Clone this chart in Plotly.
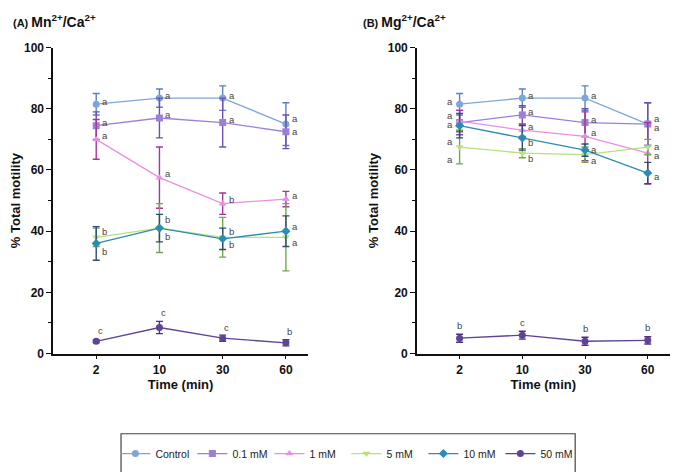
import plotly.graph_objects as go

times = ["2", "10", "30", "60"]
series_names = ["Control", "0.1 mM", "1 mM", "5 mM", "10 mM", "50 mM"]

# Panel A: Mn2+/Ca2+
mn_mean = {
    "Control": [81.5, 83.5, 83.5, 75.0],
    "0.1 mM": [74.5, 77.0, 75.5, 72.5],
    "1 mM": [70.0, 57.5, 49.0, 50.5],
    "5 mM": [38.0, 41.0, 38.0, 38.0],
    "10 mM": [36.0, 41.0, 37.5, 40.0],
    "50 mM": [4.0, 8.5, 5.0, 3.5],
}
mn_err = {
    "Control": [3.5, 3.0, 4.0, 7.0],
    "0.1 mM": [4.5, 6.5, 8.0, 5.5],
    "1 mM": [6.5, 10.0, 3.5, 2.5],
    "5 mM": [3.0, 8.0, 6.5, 11.0],
    "10 mM": [5.5, 4.5, 3.5, 5.0],
    "50 mM": [0.4, 2.0, 1.0, 1.0],
}
mn_letters = {
    "Control": ["a", "a", "a", "a"],
    "0.1 mM": ["a", "a", "a", "a"],
    "1 mM": ["a", "a", "b", "a"],
    "5 mM": ["b", "b", "b", "a"],
    "10 mM": ["b", "b", "b", "a"],
    "50 mM": ["c", "c", "c", "b"],
}

# Panel B: Mg2+/Ca2+
mg_mean = {
    "Control": [81.5, 83.5, 83.5, 75.0],
    "0.1 mM": [75.5, 78.0, 75.5, 75.0],
    "1 mM": [76.0, 73.0, 71.0, 65.5],
    "5 mM": [67.5, 65.5, 65.0, 67.5],
    "10 mM": [74.5, 70.5, 66.5, 59.0],
    "50 mM": [5.0, 6.0, 4.0, 4.3],
}
mg_err = {
    "Control": [3.5, 3.0, 4.0, 7.0],
    "0.1 mM": [4.0, 3.0, 4.5, 7.0],
    "1 mM": [3.5, 2.0, 8.0, 10.0],
    "5 mM": [5.5, 1.5, 2.5, 2.5],
    "10 mM": [4.0, 4.0, 2.0, 3.5],
    "50 mM": [1.3, 1.3, 1.3, 1.2],
}
mg_letters = {
    "Control": ["a", "a", "a", "a"],
    "0.1 mM": ["a", "a", "a", "a"],
    "1 mM": ["a", "a", "a", "a"],
    "5 mM": ["a", "b", "a", "a"],
    "10 mM": ["a", "b", "a", "a"],
    "50 mM": ["b", "c", "b", "b"],
}

line_colors = {
    "Control": "#7fa6da",
    "0.1 mM": "#9d80d6",
    "1 mM": "#e98fe3",
    "5 mM": "#b8e07e",
    "10 mM": "#2b8db2",
    "50 mM": "#5e4397",
}
err_colors = {
    "Control": "#5b80c4",
    "0.1 mM": "#6a4fae",
    "1 mM": "#a4359e",
    "5 mM": "#6ea84c",
    "10 mM": "#2f4b6d",
    "50 mM": "#4a327e",
}
symbols = {
    "Control": "circle",
    "0.1 mM": "square",
    "1 mM": "triangle-up",
    "5 mM": "triangle-down",
    "10 mM": "diamond",
    "50 mM": "circle",
}

# letter label pixel offsets (dx, dy) -- styling only
offs_a = {
    "Control": [(4, 3), (4, 3), (4, 3), (4, 6)],
    "0.1 mM": [(4, 3), (4, 3), (4, 3), (4, 0)],
    "1 mM": [(4, 4)] * 4,
    "5 mM": [(4, 6), (4, 9), (4, 6), (4, -5)],
    "10 mM": [(4, -8), (4, -8), (4, -6), (4, 5)],
    "50 mM": [(4, 11), (4, 15), (4, 11), (4, 11)],
}
offs_b = {
    "Control": [(-5, 3), (4, 3), (4, 3), (4, 6)],
    "0.1 mM": [(-5, 7), (4, 3), (4, 3), (4, -3)],
    "1 mM": [(-5, -3), (4, 4), (4, 4), (4, -2)],
    "5 mM": [(-5, -12), (4, -5), (4, -6), (4, 1)],
    "10 mM": [(-5, -16), (4, -5), (4, 1), (4, -3)],
    "50 mM": [(0, 13), (0, 13), (0, 13), (0, 13)],
}

fig = go.Figure()

panels = [
    ("x", "y", mn_mean, mn_err, mn_letters, offs_a, True),
    ("x2", "y2", mg_mean, mg_err, mg_letters, offs_b, False),
]
for xa, ya, means, errs, letters, offs, show in panels:
    for name in series_names:
        fig.add_trace(go.Scatter(
            x=times, y=means[name], xaxis=xa, yaxis=ya,
            mode="lines+markers", name=name, legendgroup=name,
            showlegend=show,
            line=dict(color=line_colors[name], width=1.3),
            marker=dict(symbol=symbols[name], size=7, color=line_colors[name]),
            error_y=dict(type="data", array=errs[name], color=err_colors[name],
                         thickness=1.4, width=3.5),
        ))

annotations = []
for xa, ya, means, errs, letters, offs, show in panels:
    for name in series_names:
        for i, t in enumerate(times):
            dx, dy = offs[name][i]
            anchor = "left" if dx > 0 else ("right" if dx < 0 else "center")
            if name == "50 mM" and xa == "x":
                anchor = "center"
            annotations.append(dict(
                x=i, y=means[name][i], xref=xa, yref=ya,
                text=letters[name][i], showarrow=False,
                xanchor=anchor, xshift=dx, yshift=dy,
                font=dict(size=9.5, color="#444444", family="Liberation Sans"),
            ))

annotations.append(dict(
    x=0.004, y=0.995, xref="paper", yref="paper", xanchor="left", yanchor="top",
    text="<b>(A) <span style='font-size:14px'>Mn<sup>2+</sup>/Ca<sup>2+</sup></span></b>",
    showarrow=False, font=dict(size=11, color="#111111", family="Liberation Sans"),
))
annotations.append(dict(
    x=0.516, y=0.995, xref="paper", yref="paper", xanchor="left", yanchor="top",
    text="<b>(B) <span style='font-size:14px'>Mg<sup>2+</sup>/Ca<sup>2+</sup></span></b>",
    showarrow=False, font=dict(size=11, color="#111111", family="Liberation Sans"),
))

xaxis_common = dict(
    type="category", range=[-0.68, 3.35], showline=True, linecolor="#111111",
    linewidth=1.6, ticks="outside", ticklen=4, tickwidth=1.3, tickcolor="#111111",
    showgrid=False, zeroline=False, automargin=False,
    tickfont=dict(size=12, color="#111111", family="Liberation Sans", weight="bold"),
    title=dict(text="Time (min)", standoff=3,
               font=dict(size=13, color="#111111", family="Liberation Sans", weight="bold")),
)
yaxis_common = dict(
    range=[0, 100], showline=True, linecolor="#111111", linewidth=1.6,
    tickvals=[0, 20, 40, 60, 80, 100], ticks="outside", ticklen=5, tickwidth=1.3,
    tickcolor="#111111", showgrid=False, zeroline=False, automargin=False,
    minor=dict(tickvals=[10, 30, 50, 70, 90], ticks="outside", ticklen=3,
               tickwidth=1.2, tickcolor="#111111"),
    tickfont=dict(size=12, color="#111111", family="Liberation Sans", weight="bold"),
    title=dict(text="% Total motility", standoff=6,
               font=dict(size=13, color="#111111", family="Liberation Sans", weight="bold")),
)

fig.update_layout(
    width=685, height=472,
    margin=dict(l=0, r=0, t=0, b=0),
    paper_bgcolor="white", plot_bgcolor="white",
    font=dict(family="Liberation Sans", color="#111111"),
    xaxis=dict(domain=[0.066, 0.438], anchor="y", **xaxis_common),
    yaxis=dict(domain=[0.268, 0.916], anchor="x", **yaxis_common),
    xaxis2=dict(domain=[0.597, 0.966], anchor="y2", **xaxis_common),
    yaxis2=dict(domain=[0.268, 0.916], anchor="x2", **yaxis_common),
    annotations=annotations,
    shapes=[dict(type="rect", xref="paper", yref="paper",
                 x0=0.165, x1=0.828, y0=0.013, y1=0.098,
                 line=dict(color="#444444", width=1.2), fillcolor="rgba(0,0,0,0)")],
    legend=dict(
        orientation="h", x=0.494, xanchor="center", y=0.056, yanchor="middle",
        borderwidth=0, bgcolor="rgba(0,0,0,0)",
        font=dict(size=10.5, color="#222222", family="Liberation Sans"),
        entrywidth=32, itemwidth=30,
    ),
)

fig.write_html("out.html")
